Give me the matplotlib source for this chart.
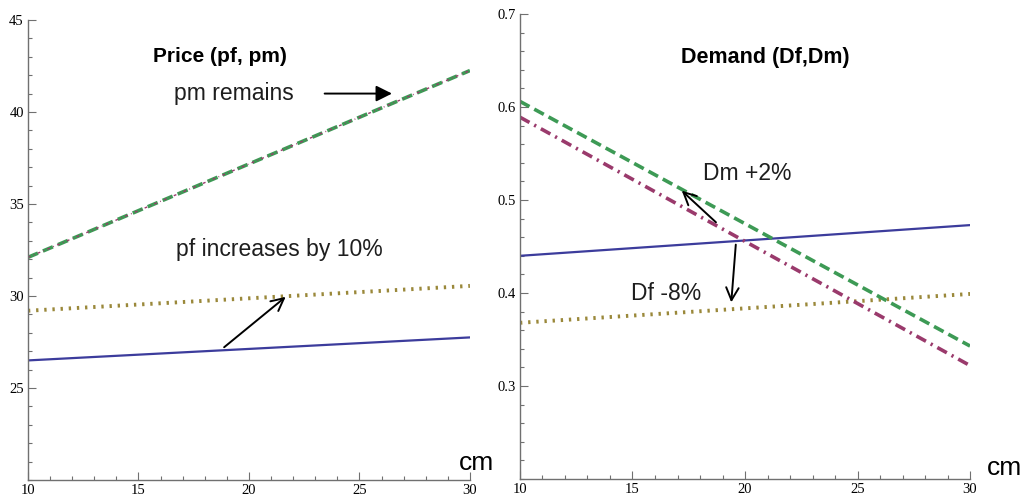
import numpy as np
import matplotlib.pyplot as plt
from matplotlib.ticker import MultipleLocator

# data: straight lines, endpoints at cm = 10 and cm = 30
cm = [10, 30]
pm_price = [32.1, 42.25]
pf_price_new = [29.2, 30.55]
pf_price_old = [26.5, 27.75]

dm_new = [0.606, 0.343]
dm_old = [0.589, 0.322]
df_old = [0.440, 0.473]
df_new = [0.368, 0.399]

green = '#3d9a55'
magenta = '#9a3a6c'
blue = '#3c3c9c'
olive = '#9a883a'
sans = 'Liberation Sans'
txt = '#1e1e1e'
head = '->,head_length=0.9,head_width=0.45'

fig = plt.figure(figsize=(10.24, 4.99), dpi=100)
ax1 = fig.add_axes([0.0273, 0.038, 0.4316, 0.922])
ax2 = fig.add_axes([0.5078, 0.040, 0.4395, 0.932])

def style(ax, ylim, yticks, minor):
    ax.set_xlim(10, 30)
    ax.set_ylim(*ylim)
    for s in ['top', 'right']:
        ax.spines[s].set_visible(False)
    for s in ['left', 'bottom']:
        ax.spines[s].set_color('#707070')
        ax.spines[s].set_linewidth(1.0)
    ax.xaxis.set_major_locator(MultipleLocator(5))
    ax.xaxis.set_minor_locator(MultipleLocator(1))
    ax.set_yticks(yticks)
    ax.yaxis.set_minor_locator(MultipleLocator(minor))
    ax.tick_params(which='both', direction='in', color='#707070', width=0.8,
                   labelsize=10.5, pad=3)
    ax.tick_params(which='major', length=6)
    ax.tick_params(which='minor', length=3)
    for lab in ax.get_xticklabels() + ax.get_yticklabels():
        lab.set_fontfamily('Liberation Serif')
    ax.patch.set_alpha(0)

style(ax1, (20, 45), [25, 30, 35, 40, 45], 1)
style(ax2, (0.2, 0.7), [0.3, 0.4, 0.5, 0.6, 0.7], 0.02)

# left: prices
ax1.plot(cm, pf_price_old, color=blue, lw=1.6)
ax1.plot(cm, pf_price_new, color=olive, lw=2.8, dashes=(0.6, 1.5), dash_capstyle='butt')
ax1.plot(cm, pm_price, color=green, lw=2.6, dashes=(3, 1.5))
ax1.plot(cm, pm_price, color=magenta, lw=1.0, dashes=(2, 2.5, 0.6, 2.5))

ax1.text(18.7, 43.0, 'Price (pf, pm)', ha='center', va='center', fontsize=15,
         fontweight='bold', family=sans)
ax1.text(19.3, 41.0, 'pm remains', ha='center', va='center', fontsize=16.5,
         family=sans, color=txt)
ax1.annotate('', xy=(26.6, 41.0), xytext=(23.3, 41.0),
             arrowprops=dict(arrowstyle='-|>', color='black', lw=1.4,
                             mutation_scale=24))
ax1.text(21.36, 32.5, 'pf increases by 10%', ha='center', va='center',
         fontsize=16.5, family=sans, color=txt)
ax1.annotate('', xy=(21.76, 30.05), xytext=(18.78, 27.12),
             arrowprops=dict(arrowstyle=head, color='black', lw=1.4))
ax1.text(30.3, 20.9, 'cm', ha='center', va='center', fontsize=19,
         family=sans, clip_on=False)

# right: demand
ax2.plot(cm, df_old, color=blue, lw=1.6)
ax2.plot(cm, df_new, color=olive, lw=2.8, dashes=(0.6, 1.5), dash_capstyle='butt')
ax2.plot(cm, dm_new, color=green, lw=2.6, dashes=(3, 1.5))
ax2.plot(cm, dm_old, color=magenta, lw=2.6, dashes=(3, 1.5, 0.6, 1.5))

ax2.text(20.9, 0.653, 'Demand (Df,Dm)', ha='center', va='center', fontsize=15.5,
         fontweight='bold', family=sans)
ax2.text(20.1, 0.528, 'Dm +2%', ha='center', va='center', fontsize=16.5,
         family=sans, color=txt)
ax2.annotate('', xy=(17.1, 0.512), xytext=(18.8, 0.474),
             arrowprops=dict(arrowstyle=head, color='black', lw=1.4))
ax2.annotate('', xy=(19.38, 0.387), xytext=(19.6, 0.455),
             arrowprops=dict(arrowstyle=head, color='black', lw=1.4))
ax2.text(16.5, 0.400, 'Df -8%', ha='center', va='center', fontsize=16.5,
         family=sans, color=txt)
ax2.text(31.55, 0.212, 'cm', ha='center', va='center', fontsize=19,
         family=sans, clip_on=False)

fig.savefig('out.png', dpi=100)
